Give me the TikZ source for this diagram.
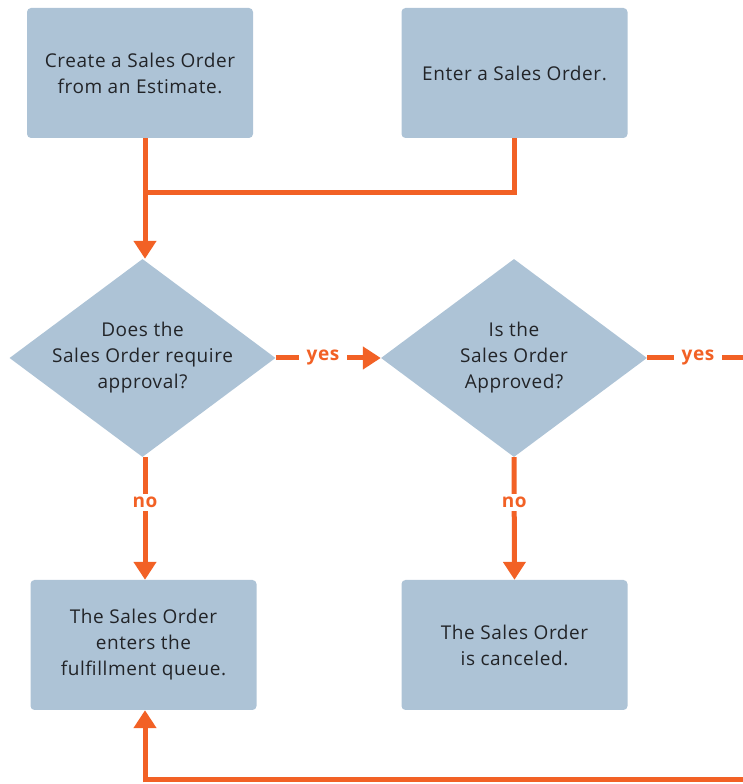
\documentclass[tikz,border=0pt]{standalone}
\usepackage{fontspec}
\setmainfont[LetterSpace=3]{Open Sans}
\usetikzlibrary{arrows.meta,shapes.geometric}
\definecolor{boxblue}{HTML}{ADC3D6}
\definecolor{flow}{HTML}{F26125}
\definecolor{ink}{HTML}{222428}

\begin{document}
\begin{tikzpicture}[x=1pt,y=1pt]
    \tikzset{stepbox/.style = {shape=rectangle, rounded corners=4pt, fill=boxblue, minimum width=226pt, minimum height=130pt, align=center, text=ink, font=\fontsize{19}{26}\selectfont}}
    \tikzset{decide/.style = {shape=diamond, fill=boxblue, minimum width=266pt, minimum height=198pt, inner xsep=-20pt, inner ysep=0pt, aspect=1.34, align=center, text=ink, font=\fontsize{19}{26}\selectfont}}
    \tikzset{edge/.style = {draw=flow, line width=5pt, -{Triangle[width=22pt,length=18pt]}}}
    \tikzset{plain/.style = {draw=flow, line width=5pt}}
    \tikzset{answer/.style = {fill=white, text=flow, inner xsep=8pt, font=\fontsize{19}{20}\selectfont\bfseries}}

    \useasboundingbox (0,0) rectangle (743,784);

    % vertices
    \node[stepbox] (est) at (140,711) {Create a Sales Order\\from an Estimate.};
    \node[stepbox] (enter) at (514.5,711) {Enter a Sales Order.};
    \node[decide] (need) at (142.5,426) {Does the\\Sales Order require\\approval?};
    \node[decide] (appr) at (514,426) {Is the\\Sales Order\\Approved?};
    \node[stepbox] (queue) at (143.5,139) {The Sales Order\\enters the\\fulfillment queue.};
    \node[stepbox] (cancel) at (514.5,139) {The Sales Order\\is canceled.};

    \coordinate (join) at (145,591);
    \coordinate (edgeR) at (760,426);
    \coordinate (downR) at (760,4);
    \coordinate (downL) at (145,4);

    % edges
    \draw[plain] (est.south -| join) -- (join);
    \draw[plain] (enter.south) |- (join);
    \draw[edge] ([yshift=2.5pt]join) -- (need.north -| join);
    \draw[edge] (need.east) -- node[answer, pos=0.45]{yes} (appr.west);
    \draw[edge] (need.south -| join) -- node[answer, pos=0.37]{no} (queue.north -| join);
    \draw[edge] (appr.south) -- node[answer, pos=0.37]{no} (cancel.north);
    \draw[plain] (appr.east) -- node[answer, pos=0.45]{yes} (edgeR) -- (downR) -- (downL);
    \draw[edge] ([yshift=-2.5pt]downL) -- (queue.south -| downL);
\end{tikzpicture}
\end{document}
